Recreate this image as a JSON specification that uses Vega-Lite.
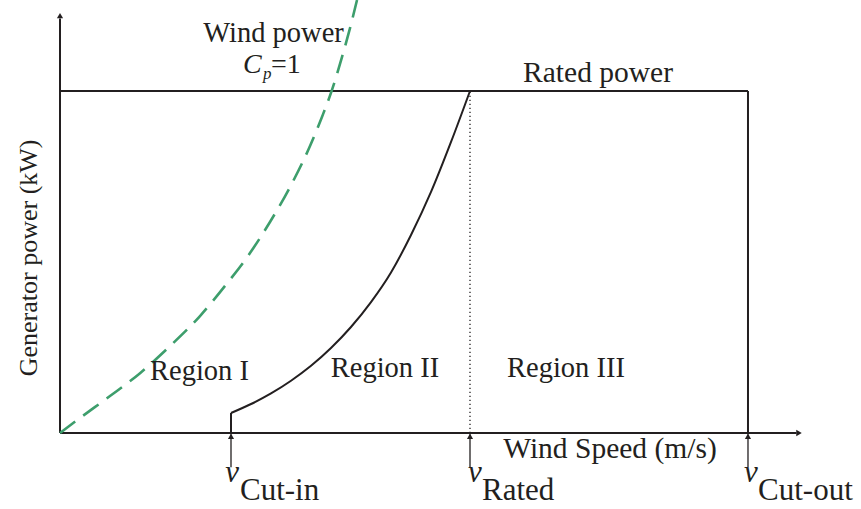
{
  "$schema": "https://vega.github.io/schema/vega-lite/v6.json",
  "width": 741,
  "height": 433,
  "autosize": {"type": "none"},
  "padding": {"left": 60, "top": 0, "right": 60, "bottom": 76},
  "background": "white",
  "config": {"view": {"stroke": null}, "text": {"font": "Liberation Serif", "color": "#231f20"}},
  "datasets": {
    "segments": [
      {"name": "x axis", "u": 0, "p": 0, "u2": 12.92, "p2": 0},
      {"name": "y axis", "u": 0, "p": 0, "u2": 0, "p2": 1.212},
      {"name": "rated power", "u": 0, "p": 1, "u2": 12.07, "p2": 1},
      {"name": "cut-out", "u": 12.07, "p": 0, "u2": 12.07, "p2": 1},
      {"name": "cut-in step", "u": 3.0, "p": 0, "u2": 3.0, "p2": 0.0585}
    ],
    "stems": [
      {"name": "cut-in", "u": 3.0, "p": -0.004, "p2": -0.1},
      {"name": "rated", "u": 7.193, "p": -0.004, "p2": -0.1},
      {"name": "cut-out", "u": 12.07, "p": -0.004, "p2": -0.1}
    ],
    "dotted": [
      {"u": 7.193, "p": 0, "p2": 1}
    ],
    "turbine": [
      {"i": 1, "u": 3.0, "p": 0.0585},
      {"i": 2, "u": 3.351, "p": 0.0848},
      {"i": 3, "u": 3.702, "p": 0.1158},
      {"i": 4, "u": 4.053, "p": 0.1529},
      {"i": 5, "u": 4.404, "p": 0.1965},
      {"i": 6, "u": 4.754, "p": 0.2485},
      {"i": 7, "u": 5.105, "p": 0.3099},
      {"i": 8, "u": 5.456, "p": 0.3827},
      {"i": 9, "u": 5.807, "p": 0.4693},
      {"i": 10, "u": 6.158, "p": 0.5789},
      {"i": 11, "u": 6.509, "p": 0.7047},
      {"i": 12, "u": 6.86, "p": 0.8509},
      {"i": 13, "u": 7.193, "p": 1.0}
    ],
    "wind": [
      {"i": 0, "u": 0, "p": 0},
      {"i": 1, "u": 0.351, "p": 0.044},
      {"i": 2, "u": 0.877, "p": 0.108},
      {"i": 3, "u": 1.404, "p": 0.175},
      {"i": 4, "u": 1.93, "p": 0.254},
      {"i": 5, "u": 2.456, "p": 0.342},
      {"i": 6, "u": 2.895, "p": 0.43},
      {"i": 7, "u": 3.333, "p": 0.526},
      {"i": 8, "u": 3.684, "p": 0.617},
      {"i": 9, "u": 4.035, "p": 0.719},
      {"i": 10, "u": 4.386, "p": 0.839},
      {"i": 11, "u": 4.596, "p": 0.924},
      {"i": 12, "u": 4.772, "p": 1.003},
      {"i": 13, "u": 4.947, "p": 1.099},
      {"i": 14, "u": 5.088, "p": 1.184},
      {"i": 15, "u": 5.211, "p": 1.266}
    ],
    "heads_up": [
      {"u": 0, "p": 1.2205},
      {"u": 3.0, "p": -0.0095},
      {"u": 7.193, "p": -0.0095},
      {"u": 12.07, "p": -0.0095}
    ],
    "heads_right": [
      {"u": 12.965, "p": 0}
    ],
    "labels": [
      {"text": "Wind power", "u": 3.746, "p": 1.143, "size": "m"},
      {"text": "Rated power", "u": 9.439, "p": 1.026, "size": "l"},
      {"text": "Region I", "u": 2.447, "p": 0.155, "size": "m"},
      {"text": "Region II", "u": 5.702, "p": 0.164, "size": "m"},
      {"text": "Region III", "u": 8.877, "p": 0.164, "size": "m"},
      {"text": "Wind Speed (m/s)", "u": 9.649, "p": -0.073, "size": "l"}
    ],
    "vsym": [
      {"text": "v", "u": 2.9, "p": -0.143},
      {"text": "v", "u": 7.16, "p": -0.143},
      {"text": "v", "u": 12.0, "p": -0.143}
    ],
    "csym": [
      {"text": "C", "u": 3.211, "p": 1.053}
    ],
    "subs": [
      {"text": "Cut-in", "u": 3.158, "p": -0.196},
      {"text": "Rated", "u": 7.404, "p": -0.196},
      {"text": "Cut-out", "u": 12.246, "p": -0.196}
    ],
    "eq": [
      {"text": "=1", "u": 3.7, "p": 1.053}
    ],
    "psub": [
      {"text": "p", "u": 3.561, "p": 1.034}
    ],
    "ytitle": [
      {"text": "Generator power (kW)", "u": -0.4, "p": 0.512}
    ]
  },
  "layer": [
    {
      "data": {"name": "segments"},
      "mark": {"type": "rule", "color": "#231f20", "strokeWidth": 2},
      "encoding": {
        "x": {"field": "u", "type": "quantitative", "scale": {"domain": [0, 13], "nice": false, "zero": false}, "axis": null},
        "y": {"field": "p", "type": "quantitative", "scale": {"domain": [0, 1.266], "nice": false, "zero": false}, "axis": null},
        "x2": {"field": "u2"},
        "y2": {"field": "p2"}
      }
    },
    {
      "data": {"name": "stems"},
      "mark": {"type": "rule", "color": "#231f20", "strokeWidth": 1.3, "clip": false},
      "encoding": {
        "x": {"field": "u", "type": "quantitative"},
        "y": {"field": "p", "type": "quantitative"},
        "y2": {"field": "p2"}
      }
    },
    {
      "data": {"name": "dotted"},
      "mark": {"type": "rule", "color": "#231f20", "strokeWidth": 1.3, "strokeDash": [1.3, 2.7]},
      "encoding": {
        "x": {"field": "u", "type": "quantitative"},
        "y": {"field": "p", "type": "quantitative"},
        "y2": {"field": "p2"}
      }
    },
    {
      "data": {"name": "turbine"},
      "mark": {"type": "line", "color": "#231f20", "strokeWidth": 2, "interpolate": "monotone"},
      "encoding": {
        "x": {"field": "u", "type": "quantitative"},
        "y": {"field": "p", "type": "quantitative"},
        "order": {"field": "i", "type": "quantitative"}
      }
    },
    {
      "data": {"name": "wind"},
      "mark": {"type": "line", "color": "#3d9e6c", "strokeWidth": 2.6, "strokeDash": [19, 10], "interpolate": "monotone"},
      "encoding": {
        "x": {"field": "u", "type": "quantitative"},
        "y": {"field": "p", "type": "quantitative"},
        "order": {"field": "i", "type": "quantitative"}
      }
    },
    {
      "data": {"name": "heads_up"},
      "mark": {"type": "point", "shape": "triangle-up", "filled": true, "color": "#231f20", "opacity": 1, "size": 38, "clip": false},
      "encoding": {
        "x": {"field": "u", "type": "quantitative"},
        "y": {"field": "p", "type": "quantitative"}
      }
    },
    {
      "data": {"name": "heads_right"},
      "mark": {"type": "point", "shape": "triangle-right", "filled": true, "color": "#231f20", "opacity": 1, "size": 40, "clip": false},
      "encoding": {
        "x": {"field": "u", "type": "quantitative"},
        "y": {"field": "p", "type": "quantitative"}
      }
    },
    {
      "data": {"name": "labels"},
      "mark": {"type": "text", "align": "center", "baseline": "alphabetic", "clip": false},
      "encoding": {
        "x": {"field": "u", "type": "quantitative"},
        "y": {"field": "p", "type": "quantitative"},
        "text": {"field": "text"},
        "size": {"field": "size", "type": "nominal", "scale": {"domain": ["m", "l"], "range": [28.5, 29.5]}, "legend": null}
      }
    },
    {
      "data": {"name": "vsym"},
      "mark": {"type": "text", "fontSize": 31, "fontStyle": "italic", "align": "left", "baseline": "alphabetic", "clip": false},
      "encoding": {
        "x": {"field": "u", "type": "quantitative"},
        "y": {"field": "p", "type": "quantitative"},
        "text": {"field": "text"}
      }
    },
    {
      "data": {"name": "csym"},
      "mark": {"type": "text", "fontSize": 28, "fontStyle": "italic", "align": "left", "baseline": "alphabetic", "clip": false},
      "encoding": {
        "x": {"field": "u", "type": "quantitative"},
        "y": {"field": "p", "type": "quantitative"},
        "text": {"field": "text"}
      }
    },
    {
      "data": {"name": "subs"},
      "mark": {"type": "text", "fontSize": 31, "align": "left", "baseline": "alphabetic", "clip": false},
      "encoding": {
        "x": {"field": "u", "type": "quantitative"},
        "y": {"field": "p", "type": "quantitative"},
        "text": {"field": "text"}
      }
    },
    {
      "data": {"name": "eq"},
      "mark": {"type": "text", "fontSize": 28, "align": "left", "baseline": "alphabetic", "clip": false},
      "encoding": {
        "x": {"field": "u", "type": "quantitative"},
        "y": {"field": "p", "type": "quantitative"},
        "text": {"field": "text"}
      }
    },
    {
      "data": {"name": "psub"},
      "mark": {"type": "text", "fontSize": 17, "fontStyle": "italic", "align": "left", "baseline": "alphabetic", "clip": false},
      "encoding": {
        "x": {"field": "u", "type": "quantitative"},
        "y": {"field": "p", "type": "quantitative"},
        "text": {"field": "text"}
      }
    },
    {
      "data": {"name": "ytitle"},
      "mark": {"type": "text", "fontSize": 26, "angle": 270, "align": "center", "baseline": "alphabetic", "clip": false},
      "encoding": {
        "x": {"field": "u", "type": "quantitative"},
        "y": {"field": "p", "type": "quantitative"},
        "text": {"field": "text"}
      }
    }
  ]
}
